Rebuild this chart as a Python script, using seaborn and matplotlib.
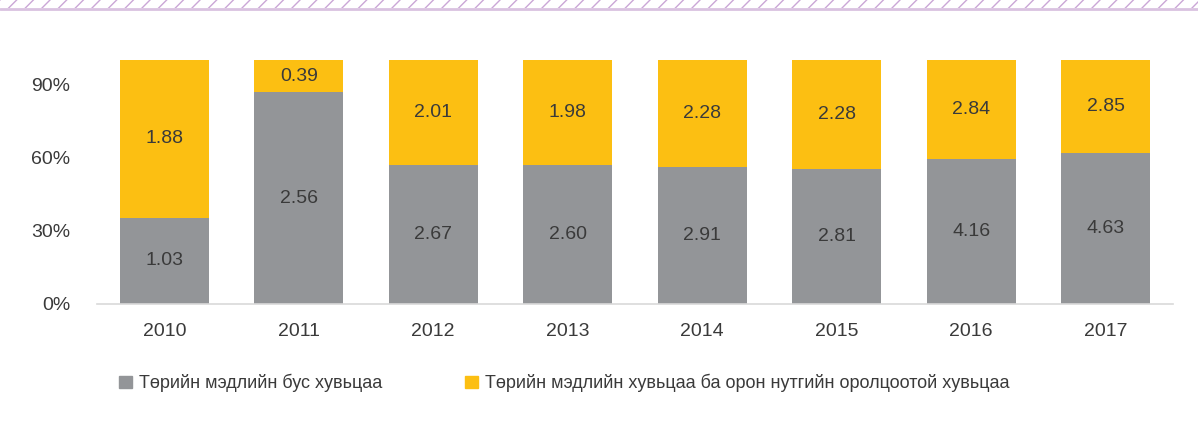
import numpy as np
import pandas as pd
import matplotlib.pyplot as plt
import matplotlib.patches as mpatches
import seaborn as sns

years = ["2010", "2011", "2012", "2013", "2014", "2015", "2016", "2017"]
non_state = [1.03, 2.56, 2.67, 2.60, 2.91, 2.81, 4.16, 4.63]
state_local = [1.88, 0.39, 2.01, 1.98, 2.28, 2.28, 2.84, 2.85]
labels = ["Төрийн мэдлийн бус хувьцаа",
          "Төрийн мэдлийн хувьцаа ба орон нутгийн оролцоотой хувьцаа"]

GRAY = "#939598"
YELLOW = "#FCBF12"
TXT = "#3a3a3a"

sns.set_style("white")
plt.rcParams["font.family"] = ["Liberation Sans Narrow", "Liberation Sans", "DejaVu Sans"]

df = pd.DataFrame({"year": years, "a": non_state, "b": state_local})
df["share_a"] = df["a"] / (df["a"] + df["b"]) * 100
df["total"] = 100.0

fig = plt.figure(figsize=(11.98, 4.22), dpi=100)
ax = fig.add_axes([97 / 1198, 1 - 304 / 422, (1173 - 97) / 1198, (304 - 60) / 422])

sns.barplot(data=df, x="year", y="total", color=YELLOW, width=0.66,
            saturation=1, linewidth=0, ax=ax)
sns.barplot(data=df, x="year", y="share_a", color=GRAY, width=0.66,
            saturation=1, linewidth=0, ax=ax)

bars_b = ax.containers[0]
bars_a = ax.containers[1]
for rect, v in zip(bars_a, df["a"]):
    ax.text(rect.get_x() + rect.get_width() / 2, rect.get_height() / 2,
            f"{v:.2f}", ha="center", va="center", fontsize=14, color=TXT)
for rect, top, v in zip(bars_b, df["share_a"], df["b"]):
    ax.text(rect.get_x() + rect.get_width() / 2, (top + 100) / 2,
            f"{v:.2f}", ha="center", va="center", fontsize=14, color=TXT)

ax.set_ylim(0, 100)
ax.set_xlim(-0.5, 7.5)
ax.set_yticks([0, 30, 60, 90])
ax.set_yticklabels(["0%", "30%", "60%", "90%"])
ax.set_xlabel("")
ax.set_ylabel("")
ax.tick_params(axis="both", length=0, labelsize=14, labelcolor=TXT)
ax.tick_params(axis="x", pad=14)
ax.tick_params(axis="y", pad=19)
for s in ["top", "right", "left"]:
    ax.spines[s].set_visible(False)
ax.spines["bottom"].set_color("#d9d9d9")
ax.spines["bottom"].set_linewidth(1.2)

handles = [mpatches.Patch(color=GRAY, label=labels[0]),
           mpatches.Patch(color=YELLOW, label=labels[1])]
fig.legend(handles=handles, loc="center left", ncol=2,
           bbox_to_anchor=(103 / 1198, 1 - 383 / 422), frameon=False,
           fontsize=13, handlelength=0.7, handleheight=0.7,
           handletextpad=0.4, columnspacing=4.6, labelcolor=TXT)

# hatched decorative strip at the top
strip = mpatches.Rectangle((0, 1 - 8 / 422), 1, 8 / 422, transform=fig.transFigure,
                           facecolor="white", edgecolor="#caa6d6", hatch="//",
                           linewidth=0, figure=fig)
fig.patches.append(strip)
fig.add_artist(plt.Line2D([0, 1], [1 - 8.5 / 422] * 2, transform=fig.transFigure,
                          color="#d9c2e0", linewidth=2))

fig.savefig("out.png", dpi=100)
